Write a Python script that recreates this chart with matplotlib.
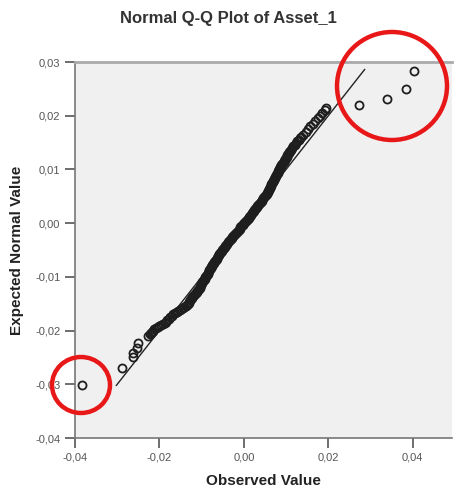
import numpy as np
import matplotlib
matplotlib.use('Agg')
import matplotlib.pyplot as plt
from matplotlib.patches import Ellipse
from matplotlib.ticker import FuncFormatter

# points, (observed, expected normal) in pieces along the band
low_tail_x = [-0.0383, -0.0289, -0.0263, -0.0262, -0.0254, -0.0251,
              -0.0226, -0.0223, -0.0221, -0.0218, -0.0215, -0.0212, -0.0208, -0.0204,
              -0.0200, -0.0196, -0.0192, -0.0188, -0.0184, -0.0181, -0.0177]
low_tail_y = [-0.0302, -0.0270, -0.0249, -0.0241, -0.0232, -0.0223,
              -0.0210, -0.0207, -0.0204, -0.0202, -0.0200, -0.0198, -0.0196, -0.0194,
              -0.0192, -0.0190, -0.0188, -0.0186, -0.0184, -0.0181, -0.0178]

low_band_x = [-0.0174, -0.0170, -0.0167, -0.0163, -0.0159, -0.0155, -0.0152, -0.0148,
              -0.0144, -0.0141, -0.0137,
              -0.0135, -0.0133, -0.0131, -0.0129, -0.0128, -0.0126, -0.0124, -0.0122,
              -0.0120, -0.0118, -0.0116, -0.0114, -0.0112, -0.0110, -0.0109, -0.0107,
              -0.0105, -0.0104, -0.0102, -0.0101, -0.0099, -0.0098, -0.0096, -0.0095,
              -0.0093, -0.0092, -0.0091, -0.0089, -0.0088, -0.0086, -0.0085, -0.0083,
              -0.0082, -0.0080, -0.0079, -0.0078, -0.0076, -0.0075]
low_band_y = [-0.0174, -0.0172, -0.0170, -0.0168, -0.0166, -0.0164, -0.0162, -0.0160,
              -0.0158, -0.0156, -0.0154,
              -0.0152, -0.0150, -0.0148, -0.0146, -0.0144, -0.0142, -0.0140, -0.0138,
              -0.0136, -0.0134, -0.0132, -0.0130, -0.0128, -0.0126, -0.0124, -0.0122,
              -0.0120, -0.0118, -0.0116, -0.0114, -0.0112, -0.0110, -0.0108, -0.0106,
              -0.0104, -0.0102, -0.0100, -0.0098, -0.0096, -0.0094, -0.0092, -0.0090,
              -0.0088, -0.0086, -0.0084, -0.0082, -0.0080, -0.0078]

mid_band_x = [-0.0073, -0.0071, -0.0070, -0.0068, -0.0066, -0.0064, -0.0063, -0.0061,
              -0.0059, -0.0058, -0.0056, -0.0054, -0.0052, -0.0051, -0.0049, -0.0047,
              -0.0045, -0.0044, -0.0042,
              -0.0040, -0.0038, -0.0036, -0.0033, -0.0031, -0.0029, -0.0027, -0.0025,
              -0.0023, -0.0021, -0.0018, -0.0016, -0.0014, -0.0012, -0.0010, -0.0008,
              -0.0006, -0.0003, -0.0001, 0.0001, 0.0003, 0.0005,
              0.0007, 0.0009, 0.0011, 0.0013, 0.0015, 0.0017, 0.0019, 0.0021,
              0.0023, 0.0025, 0.0027, 0.0029, 0.0030, 0.0032, 0.0034, 0.0036,
              0.0038, 0.0040, 0.0042, 0.0044, 0.0046, 0.0048, 0.0050, 0.0052]
mid_band_y = [-0.0076, -0.0074, -0.0072, -0.0070, -0.0068, -0.0066, -0.0064, -0.0062,
              -0.0060, -0.0058, -0.0056, -0.0054, -0.0052, -0.0050, -0.0048, -0.0046,
              -0.0044, -0.0042, -0.0040,
              -0.0038, -0.0036, -0.0034, -0.0032, -0.0030, -0.0028, -0.0026, -0.0024,
              -0.0022, -0.0020, -0.0018, -0.0016, -0.0014, -0.0012, -0.0010, -0.0008,
              -0.0006, -0.0004, -0.0002, 0.0000, 0.0002, 0.0004,
              0.0006, 0.0008, 0.0010, 0.0012, 0.0014, 0.0016, 0.0018, 0.0020,
              0.0022, 0.0024, 0.0026, 0.0028, 0.0030, 0.0032, 0.0034, 0.0036,
              0.0038, 0.0040, 0.0042, 0.0044, 0.0046, 0.0048, 0.0050, 0.0052]

high_band_x = [0.0054, 0.0055, 0.0056, 0.0058, 0.0059, 0.0060, 0.0061, 0.0063,
               0.0064, 0.0065, 0.0067, 0.0068, 0.0069, 0.0071, 0.0072, 0.0073,
               0.0074, 0.0076, 0.0077, 0.0078, 0.0080, 0.0081, 0.0082, 0.0084, 0.0085,
               0.0086, 0.0088, 0.0089, 0.0091, 0.0092, 0.0094, 0.0095, 0.0097,
               0.0098, 0.0100, 0.0101, 0.0103, 0.0104, 0.0106, 0.0107, 0.0109]
high_band_y = [0.0054, 0.0056, 0.0058, 0.0060, 0.0062, 0.0064, 0.0066, 0.0068,
               0.0070, 0.0072, 0.0074, 0.0076, 0.0078, 0.0080, 0.0082, 0.0084,
               0.0086, 0.0088, 0.0090, 0.0092, 0.0094, 0.0096, 0.0098, 0.0100, 0.0102,
               0.0104, 0.0106, 0.0108, 0.0110, 0.0112, 0.0114, 0.0116, 0.0118,
               0.0120, 0.0122, 0.0124, 0.0126, 0.0128, 0.0130, 0.0132, 0.0134]

high_tail_x = [0.0111, 0.0114, 0.0117, 0.0120, 0.0124, 0.0127, 0.0130, 0.0133,
               0.0136, 0.0141, 0.0146, 0.0152, 0.0157, 0.0163, 0.0169, 0.0175,
               0.0181, 0.0186, 0.0191, 0.0195,
               0.0272, 0.0339, 0.0384, 0.0403]
high_tail_y = [0.0137, 0.0140, 0.0143, 0.0146, 0.0149, 0.0152, 0.0155, 0.0158,
               0.0161, 0.0165, 0.0170, 0.0175, 0.0180, 0.0185, 0.0190, 0.0195,
               0.0200, 0.0205, 0.0210, 0.0214,
               0.0220, 0.0231, 0.0250, 0.0283]

observed = low_tail_x + low_band_x + mid_band_x + high_band_x + high_tail_x
expected = low_tail_y + low_band_y + mid_band_y + high_band_y + high_tail_y

ref_line = [-0.0302, 0.0286]
x_ticks = [-0.04, -0.02, 0.00, 0.02, 0.04]
y_ticks = [-0.04, -0.03, -0.02, -0.01, 0.00, 0.01, 0.02, 0.03]

plt.rcParams['font.family'] = ['Liberation Sans', 'DejaVu Sans']

fig = plt.figure(figsize=(4.54, 5.00), dpi=100)
ax = fig.add_axes([75/454, 62/500, 377/454, 376/500])
ax.set_facecolor('#f0f0f0')

ax.plot(ref_line, ref_line, color='#222222', lw=1.0, zorder=2)
ax.plot(observed, expected, 'o', ms=5.8, mfc='none', mec='#1e1e1e', mew=1.3, zorder=3)

ax.set_xlim(-0.04, 0.0493)
ax.set_ylim(-0.04, 0.03)
ax.set_xticks(x_ticks)
ax.set_yticks(y_ticks)
fmt = FuncFormatter(lambda v, p: ('%.2f' % v).replace('.', ','))
ax.xaxis.set_major_formatter(fmt)
ax.yaxis.set_major_formatter(fmt)
ax.tick_params(labelsize=8, labelcolor='#555555', color='#555555', length=7, width=1.2)

for s in ['left', 'bottom']:
    ax.spines[s].set_color('#777777')
    ax.spines[s].set_linewidth(1.2)
ax.spines['top'].set_color('#aaaaaa')
ax.spines['top'].set_linewidth(2)
ax.spines['right'].set_visible(False)

fig.text(0.503, 1 - 18/500, 'Normal Q-Q Plot of Asset_1', ha='center', va='center',
         fontsize=12, fontweight='bold', color='#333333')
ax.set_xlabel('Observed Value', fontsize=11, fontweight='bold', color='#222222', labelpad=8)
ax.set_ylabel('Expected Normal Value', fontsize=11, fontweight='bold', color='#222222', labelpad=8)

# red circles drawn over the chart
for cx, cy, w, h in [(392, 86, 110, 108), (81, 385, 58, 56)]:
    e = Ellipse((cx/454, 1 - cy/500), w/454, h/500, transform=fig.transFigure,
                fill=False, ec='#e81818', lw=3.2, zorder=10)
    fig.add_artist(e)

fig.savefig('out.png', dpi=100)
